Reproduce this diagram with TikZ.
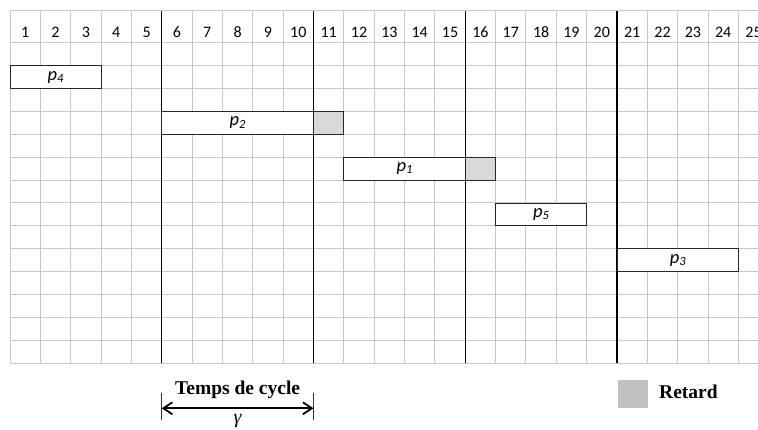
\documentclass[tikz,border=0pt]{standalone}
\usepackage{fontspec}
\setmainfont{Carlito}
\newfontfamily\tnr{Liberation Serif}
\usetikzlibrary{arrows.meta,calc}
\definecolor{gridgray}{HTML}{C8C8C8}
\definecolor{delaygray}{HTML}{D9D9D9}
\definecolor{legendgray}{HTML}{C0C0C0}
\newcommand{\plab}[1]{p{\fontsize{12.5}{12.5}\selectfont\raisebox{-2.2pt}{#1}}}
\tikzset{
  gridline/.style={draw=gridgray, line width=1pt},
  cycleline/.style={draw=black, line width=1.2pt},
  task/.style={draw=black!85, line width=0.9pt, fill=white, rectangle, inner sep=0pt, font=\fontsize{18.5}{18.5}\selectfont\itshape},
  delay/.style={draw=black!85, line width=0.9pt, fill=delaygray, rectangle, inner sep=0pt},
  hdr/.style={font=\fontsize{16}{16}\selectfont, inner sep=0pt},
  legendtxt/.style={font=\tnr\bfseries\fontsize{19.5}{19.5}\selectfont, inner sep=0pt},
}
\begin{document}
\begin{tikzpicture}[x=1pt,y=-1pt]
\useasboundingbox (0,0) rectangle (758,430);
\clip (0,0) rectangle (758,430);
\pgfmathsetmacro{\cw}{30.35}
\pgfmathsetmacro{\rh}{22.9}
\def\ytop{11}
\def\yh{42.7}
\pgfmathsetmacro{\ybot}{\yh+14*\rh}
% grid
\foreach \i in {0,...,24} {
  \draw[gridline] ({10+\i*\cw},\ytop) -- ({10+\i*\cw},\ybot);
}
\draw[gridline] (10,\ytop) -- (758,\ytop);
\foreach \k in {0,...,14} {
  \draw[gridline] (10,{\yh+\k*\rh}) -- (758,{\yh+\k*\rh});
}
% header numbers
\foreach \i in {1,...,25} {
  \node[hdr] (h\i) at ({10+(\i-0.5)*\cw},32) {\i};
}
% cycle lines
\foreach \i in {5,10,15,20} {
  \draw[cycleline] ({10+\i*\cw},\ytop) -- ({10+\i*\cw},\ybot);
}
% tasks: row r (1..14) top = yh+(r-1)*rh
\node[task, minimum width={3*\cw}, minimum height=\rh] (p4) at ({10+1.5*\cw},{\yh+1.5*\rh}) {\plab{4}};
\node[task, minimum width={5*\cw}, minimum height=\rh] (p2) at ({10+7.5*\cw},{\yh+3.5*\rh}) {\plab{2}};
\node[delay, minimum width=\cw, minimum height=\rh] (d2) at ({10+10.5*\cw},{\yh+3.5*\rh}) {};
\node[task, minimum width={4*\cw}, minimum height=\rh] (p1) at ({10+13*\cw},{\yh+5.5*\rh}) {\plab{1}};
\node[delay, minimum width=\cw, minimum height=\rh] (d1) at ({10+15.5*\cw},{\yh+5.5*\rh}) {};
\node[task, minimum width={3*\cw}, minimum height=\rh] (p5) at ({10+17.5*\cw},{\yh+7.5*\rh}) {\plab{5}};
\node[task, minimum width={4*\cw}, minimum height=\rh] (p3) at ({10+22*\cw},{\yh+9.5*\rh}) {\plab{3}};
% cycle time legend
\coordinate (cL) at ({10+5*\cw},408.3);
\coordinate (cR) at ({10+10*\cw},408.3);
\draw[line width=1.3pt, black!80] ([yshift=-12]cL) -- ([yshift=15]cL);
\draw[line width=1.3pt, black!80] ([yshift=-12]cR) -- ([yshift=15]cR);
\draw[line width=1.8pt, {Straight Barb[length=9pt,width=12pt]}-{Straight Barb[length=9pt,width=12pt]}] (cL) -- (cR);
\node[legendtxt] (tc) at ($(cL)!0.5!(cR)+(0,-18)$) {Temps de cycle};
\node[font=\tnr\itshape\fontsize{20}{20}\selectfont, inner sep=0pt] (gam) at ($(cL)!0.5!(cR)+(0,13)$) {γ};
% delay legend
\node[fill=legendgray, minimum width=30pt, minimum height=27.5pt, inner sep=0pt] (lg) at (633.3,393.8) {};
\node[legendtxt, anchor=west] (rt) at (659,392.3) {Retard};
\end{tikzpicture}
\end{document}
